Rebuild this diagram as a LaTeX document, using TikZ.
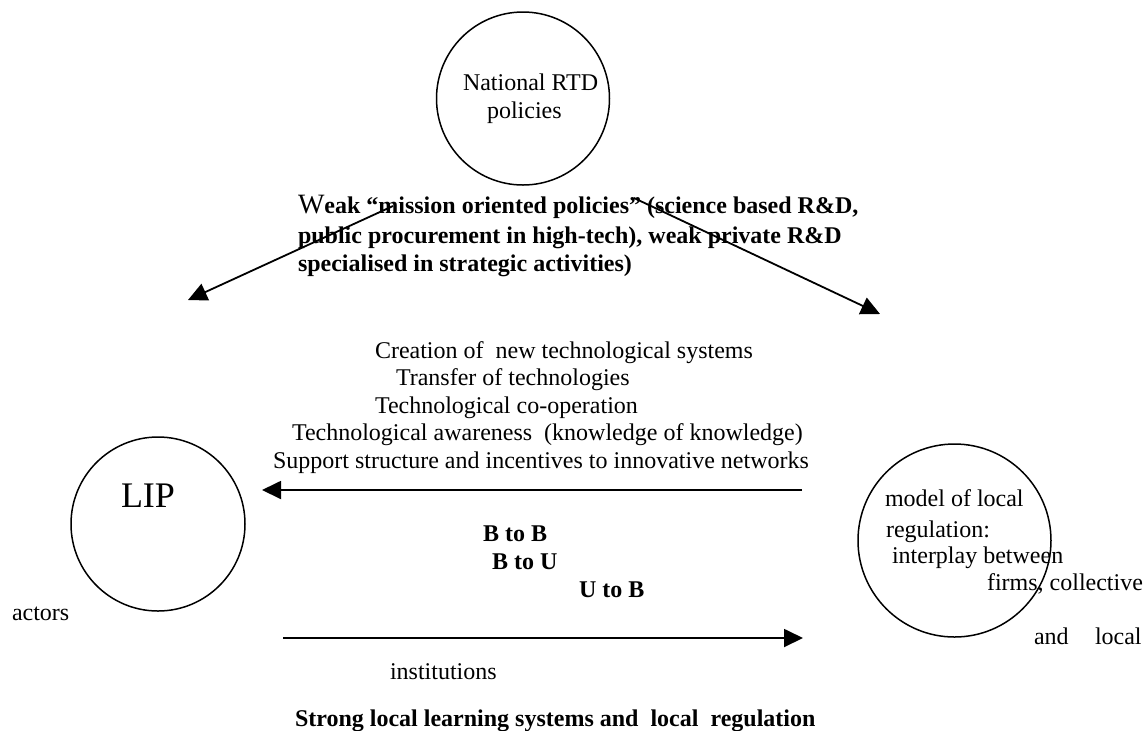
\documentclass[tikz,border=0pt]{standalone}
\usepackage{fontspec}
\setmainfont{Liberation Serif}
\usetikzlibrary{arrows.meta}
\begin{document}
\begin{tikzpicture}[x=0.5pt,y=-0.5pt,
  every node/.style={inner sep=0pt,outer sep=0pt,font=\fontsize{12}{14}\selectfont},
  txt/.style={anchor=base west},
  bold/.style={anchor=base west,font=\fontsize{12}{14}\selectfont\bfseries},
  ring/.style={draw,circle,line width=0.75pt},
  arr/.style={line width=0.9pt,-{Triangle[length=9.5pt,width=9pt]}}
]
\useasboundingbox (0,0) rectangle (1147,730);
% circles
\node[ring,minimum size=86.5pt] (nat) at (523,98.5) {};
\node[txt] (natA) at (463,90) {National RTD};
\node[txt] (natB) at (487,118) {policies};
\node[ring,minimum size=87pt] (lip) at (158,524) {};
\node[txt,font=\fontsize{18}{21}\selectfont] (lipt) at (121,507) {LIP};
\node[ring,minimum size=96.5pt] (reg) at (954.5,540.5) {};
% bold text top
\node[bold] (w1) at (298,213) {{\mdseries\fontsize{14}{16}\selectfont W}eak “mission oriented policies” (science based R\&D,};
\node[bold] (w2) at (298,243) {public procurement in high-tech), weak private R\&D};
\node[bold] (w3) at (298,271) {specialised in strategic activities)};
% diagonal arrows
\coordinate (ls) at (393,206);
\coordinate (le) at (188,300);
\coordinate (rs) at (634,198);
\coordinate (re) at (880,314);
\draw[arr] (ls) -- (le);
\draw[arr] (rs) -- (re);
% middle list
\node[txt] (c1) at (375,358) {Creation of~ new technological systems};
\node[txt] (c2) at (396,385) {Transfer of technologies};
\node[txt] (c3) at (375,413) {Technological co-operation};
\node[txt] (c4) at (292,440) {Technological awareness~ (knowledge of knowledge)};
\node[txt] (c5) at (273,468) {Support structure and incentives to innovative networks};
% horizontal arrows
\coordinate (ha) at (802,490);
\coordinate (hb) at (262,490);
\draw[arr] (ha) -- (hb);
\coordinate (hc) at (283,638);
\coordinate (hd) at (803,638);
\draw[arr] (hc) -- (hd);
% B/U labels
\node[bold] (bb) at (483,541) {B to B};
\node[bold] (bu) at (492,569) {B to U};
\node[bold] (ub) at (579,597) {U to B};
% left/bottom text
\node[txt] (act) at (12,620) {actors};
\node[txt] (inst) at (390,679) {institutions};
\node[bold] (strong) at (295,726) {Strong local learning systems and~ local~ regulation};
% right circle text
\node[txt] (m1) at (885,506) {model of local};
\node[txt] (m2) at (886,537) {regulation:};
\node[txt] (m3) at (892,563) {interplay between};
\node[txt] (m4) at (987,590) {firms, collective};
\node[txt] (m5) at (1034,644) {and};
\node[txt] (m6) at (1095,644) {local};
\end{tikzpicture}
\end{document}
